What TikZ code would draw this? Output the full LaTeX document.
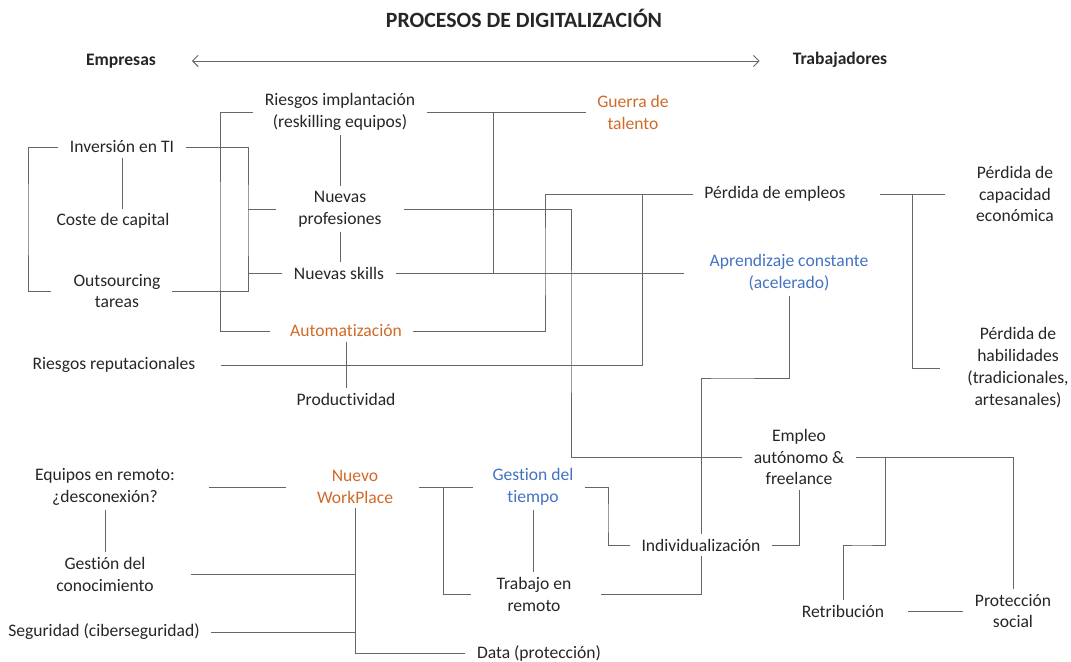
\documentclass[tikz,border=0pt]{standalone}
\usepackage{fontspec}
\setmainfont{Carlito}[Ligatures=NoCommon]
\usetikzlibrary{arrows.meta}
\definecolor{txt}{HTML}{262626}
\definecolor{lin}{HTML}{666666}
\definecolor{naranja}{HTML}{D06A28}
\definecolor{azul}{HTML}{4472C4}
\begin{document}
\begin{tikzpicture}[x=0.025cm,y=-0.025cm,
    lbl/.style={align=center,inner xsep=8pt,inner ysep=3pt,text=txt,font=\fontsize{12.5}{15.6}\selectfont},
    cab/.style={text=txt,font=\fontsize{12.5}{15}\selectfont\bfseries},
    con/.style={draw=lin,line width=0.7pt}]
    \useasboundingbox (0,0) rectangle (1071,662);
    \node[cab,font=\fontsize{15.5}{18}\selectfont\bfseries] (titulo) at (524,18) {PROCESOS DE DIGITALIZACIÓN};
    \node[cab] (empresas) at (121,61) {Empresas};
    \node[cab] (trabajadores) at (840,60) {Trabajadores};
    \draw[con,{Straight Barb[length=4pt,width=8pt]}-{Straight Barb[length=4pt,width=8pt]},shorten <=22pt,shorten >=20pt] (empresas.east) -- (trabajadores.west |- empresas.east);

    \node[lbl] (riesgo) at (340,112) {Riesgos implantación\\(reskilling equipos)};
    \node[lbl,text=naranja] (guerra) at (633,112) {Guerra de\\talento};
    \node[lbl] (inv) at (122,147) {Inversión en TI};
    \node[lbl] (coste) at (113,221) {Coste de capital};
    \node[lbl] (outs) at (117,291) {Outsourcing\\tareas};
    \node[lbl] (nprof) at (340,209) {Nuevas\\profesiones};
    \node[lbl] (nskill) at (339,273) {Nuevas skills};
    \node[lbl,text=naranja] (autom) at (346,331) {Automatización};
    \node[lbl] (rrep) at (114,365) {Riesgos reputacionales};
    \node[lbl] (prod) at (346,399) {Productividad};
    \node[lbl] (pemp) at (775,194) {Pérdida de empleos};
    \node[lbl] (pcap) at (1015,194) {Pérdida de\\capacidad\\económica};
    \node[lbl,text=azul] (aprend) at (789,273) {Aprendizaje constante\\(acelerado)};
    \node[lbl] (phab) at (1018,368) {Pérdida de\\habilidades\\(tradicionales,\\artesanales)};
    \node[lbl] (empleo) at (799,457) {Empleo\\autónomo \&\\freelance};
    \node[lbl] (equipos) at (105,487) {Equipos en remoto:\\¿desconexión?};
    \node[lbl,text=naranja] (nwp) at (355,487) {Nuevo\\WorkPlace};
    \node[lbl,text=azul] (gtiempo) at (533,487) {Gestion del\\tiempo};
    \node[lbl] (indiv) at (701,545) {Individualización};
    \node[lbl] (gcon) at (105,574) {Gestión del\\conocimiento};
    \node[lbl] (trem) at (534,594) {Trabajo en\\remoto};
    \node[lbl] (segur) at (104,632) {Seguridad (ciberseguridad)};
    \node[lbl] (data) at (539,653) {Data (protección)};
    \node[lbl] (retri) at (843,611) {Retribución};
    \node[lbl] (prot) at (1013,611) {Protección\\social};

    \coordinate (tronco) at (248,147);
    \coordinate (talento) at (493,112);
    \coordinate (empleos) at (642,194);
    \coordinate (pierde) at (912,194);
    \coordinate (lugar) at (443,487);
    \coordinate (autonomo) at (885,457);

    \draw[con,shorten >=8pt] (inv.west) -| (28,220) |- (outs.west);
    \draw[con] (inv.south) -- (inv.south |- coste.north);
    \draw[con] (inv.east) -| (tronco |- coste) |- (outs.east);
    \draw[con,shorten <=8pt] (nprof.west) -- (nprof.west -| tronco);
    \draw[con] (nskill.west) -- (nskill.west -| tronco);
    \draw[con,shorten >=6pt] (riesgo.west) -| (220,250) |- (autom.west);
    \draw[con] (riesgo.south) -- (riesgo.south |- nprof.north);
    \draw[con] (nprof.south) -- (nprof.south |- nskill.north);
    \draw[con] (riesgo.east) -- (guerra.west);
    \draw[con] (talento) -- (talento |- nskill);
    \draw[con,shorten >=10pt] (nskill.east) -- (aprend.west |- nskill.east);
    \draw[con,shorten <=8pt] (nprof.east) -| (571,330) |- (empleo.west);
    \draw[con] (autom.east) -| (545,260) |- (pemp.west);
    \draw[con,shorten <=10pt] (rrep.east) -| (empleos);
    \draw[con] (autom.south) -- (prod.north);
    \draw[con,shorten <=16pt,shorten >=14pt] (pemp.east) -- (pcap.west);
    \draw[con,shorten >=11pt] (pierde) |- (phab.west);
    \draw[con] (aprend.south) |- (720,378) -| (indiv.north);

    \draw[con,shorten <=16pt,shorten >=14pt] (equipos.east) -- (nwp.west);
    \draw[con] (equipos.south) -- (gcon.north);
    \draw[con] (nwp.south) |- (data.west);
    \draw[con,shorten <=18pt] (gcon.east) -- (gcon.east -| nwp.south);
    \draw[con] (segur.east) -- (segur.east -| nwp.south);
    \draw[con,shorten <=10pt,shorten >=6pt] (nwp.east) -- (gtiempo.west);
    \draw[con,shorten >=10pt] (lugar) |- (trem.west);
    \draw[con] (gtiempo.south) -- (gtiempo.south |- trem.north);
    \draw[con] (gtiempo.east) -| (608,520) |- (indiv.west);
    \draw[con,shorten <=13pt] (trem.east) -| (indiv.south);
    \draw[con] (indiv.east) -| (empleo.south);
    \draw[con] (empleo.east) -| (prot.north);
    \draw[con] (autonomo) |- (860,545) -| (retri.north);
    \draw[con,shorten <=9pt] (retri.east) -- (prot.west);
\end{tikzpicture}
\end{document}
